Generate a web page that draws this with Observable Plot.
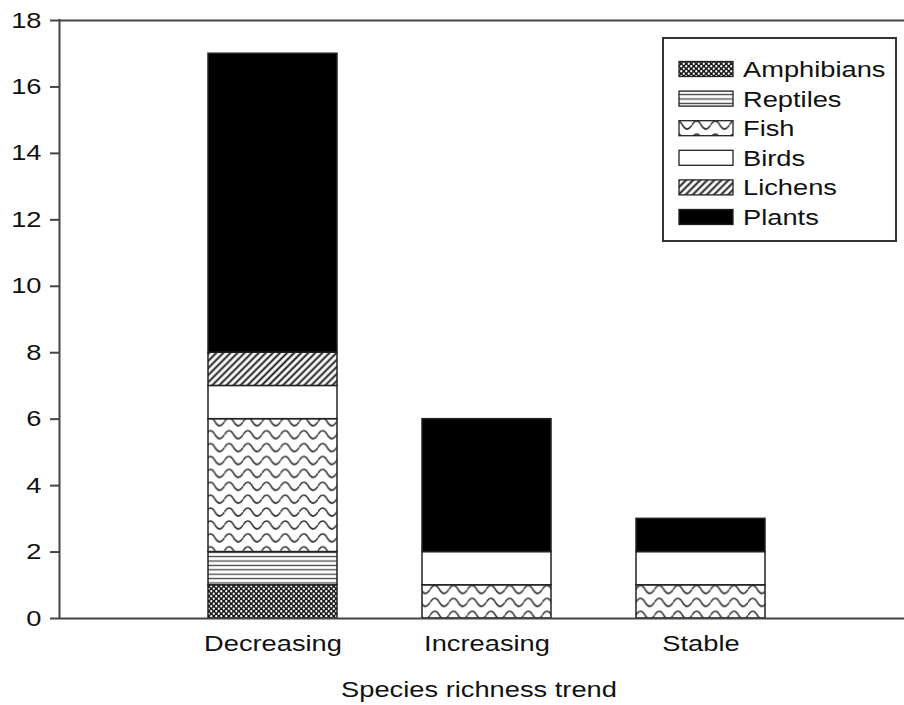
<!DOCTYPE html>
<html><head><meta charset="utf-8">
<script src="https://cdn.jsdelivr.net/npm/d3@7"></script>
<script src="https://cdn.jsdelivr.net/npm/@observablehq/plot@0.6"></script>
<style>
body{margin:0;background:#fff;}
#chart{position:relative;width:904px;height:705px;overflow:hidden;}
</style>
</head><body>
<svg width="0" height="0" style="position:absolute">
  <defs>
    <pattern id="p-amph" patternUnits="userSpaceOnUse" width="5" height="5">
      <rect width="5" height="5" fill="#1a1a1a"/>
      <circle cx="1.25" cy="1.25" r="1.15" fill="#fff"/>
      <circle cx="3.75" cy="3.75" r="1.15" fill="#fff"/>
    </pattern>
    <pattern id="p-rept" patternUnits="userSpaceOnUse" width="10" height="4.4">
      <rect width="10" height="4.4" fill="#fff"/>
      <line x1="0" x2="10" y1="2.2" y2="2.2" stroke="#444" stroke-width="1.3"/>
    </pattern>
    <pattern id="p-fish" patternUnits="userSpaceOnUse" width="18.7" height="12.9" y="1">
      <rect width="18.7" height="12.9" fill="#fff"/>
      <path d="M0,8 Q4.675,0 9.35,8 T18.7,8" fill="none" stroke="#333" stroke-width="1.6"/>
    </pattern>
    <pattern id="p-lich" patternUnits="userSpaceOnUse" width="5" height="5" patternTransform="rotate(45)">
      <rect width="5" height="5" fill="#fff"/>
      <line x1="2.5" x2="2.5" y1="0" y2="5" stroke="#111" stroke-width="1.9"/>
    </pattern>
  </defs>
</svg>
<div id="chart"></div>
<script>
const trends = ["Decreasing", "Increasing", "Stable"];
const species = ["Amphibians", "Reptiles", "Fish", "Birds", "Lichens", "Plants"];
const decreasing = [1, 1, 4, 1, 1, 9];
const increasing = [0, 0, 1, 1, 0, 4];
const stable = [0, 0, 1, 1, 0, 1];
const yTicks = [0, 2, 4, 6, 8, 10, 12, 14, 16, 18];
const xTitle = "Species richness trend";
const patternFill = {
  Amphibians: "url(#p-amph)",
  Reptiles: "url(#p-rept)",
  Fish: "url(#p-fish)",
  Birds: "#ffffff",
  Lichens: "url(#p-lich)",
  Plants: "#000000"
};

const seriesByTrend = [decreasing, increasing, stable];
const table = [];
trends.forEach((t, i) => species.forEach((s, j) => {
  const v = seriesByTrend[i][j];
  if (v > 0) table.push({trend: t, species: s, count: v});
}));

const FONT = "'Liberation Sans', Arial, Helvetica, sans-serif";
const K = 1.24; // horizontal text stretch of the reference

const plot = Plot.plot({
  width: 904,
  height: 705,
  marginLeft: 60,
  marginRight: 0,
  marginTop: 20,
  marginBottom: 87,
  style: {fontFamily: FONT, fontSize: "22px", color: "#111", background: "#fff"},
  x: {domain: trends, range: [123, 850], padding: 0.397, label: null},
  y: {domain: [0, 18], label: null},
  color: {type: "identity"},
  marks: [
    Plot.barY(table, {
      x: "trend", y: "count", z: "species", order: species,
      fill: d => patternFill[d.species],
      stroke: "#222", strokeWidth: 1.5
    }),
    Plot.ruleY([0, 18], {stroke: "#444", strokeWidth: 2}),
    Plot.axisY(yTicks, {tickSize: 10, tickPadding: 9, stroke: "#444", strokeWidth: 2, label: null, fill: "#111"}),
    Plot.axisX({tickSize: 0, tickPadding: 17, label: null, fill: "#111"})
  ]
});

document.getElementById("chart").appendChild(plot);
const svg = d3.select(plot);

// stretch text horizontally about its anchor point, keeping its position
function stretch(el) {
  const b = el.getBBox();
  const anchor = getComputedStyle(el).textAnchor;
  const ax = anchor === "end" ? b.x + b.width : anchor === "middle" ? b.x + b.width / 2 : b.x;
  const t = el.getAttribute("transform") || "";
  el.setAttribute("transform", `${t} translate(${ax},0) scale(${K},1) translate(${-ax},0)`);
}
plot.querySelectorAll("text").forEach(stretch);

// left axis line
const ys = plot.scale("y");
svg.append("line")
  .attr("x1", 59.5).attr("x2", 59.5)
  .attr("y1", ys.range[1] - 1).attr("y2", ys.range[0] + 1)
  .attr("stroke", "#444").attr("stroke-width", 2);

// axis title
svg.append("text")
  .attr("x", 479).attr("y", 697)
  .attr("text-anchor", "middle")
  .attr("fill", "#111")
  .style("font-family", FONT).style("font-size", "22px")
  .text(xTitle)
  .each(function() { stretch(this); });

// legend
const lg = svg.append("g");
lg.append("rect")
  .attr("x", 663).attr("y", 38).attr("width", 233).attr("height", 203)
  .attr("fill", "#fff").attr("stroke", "#333").attr("stroke-width", 2);
species.forEach((s, i) => {
  const cy = 69 + i * 29.6;
  lg.append("rect")
    .attr("x", 679).attr("y", cy - 7.5).attr("width", 54).attr("height", 15)
    .attr("fill", patternFill[s]).attr("stroke", "#222").attr("stroke-width", 1.3);
  lg.append("text")
    .attr("x", 743).attr("y", cy + 8)
    .attr("text-anchor", "start")
    .attr("fill", "#111")
    .style("font-family", FONT).style("font-size", "22px")
    .text(s)
    .each(function() { stretch(this); });
});
</script>
</body></html>
